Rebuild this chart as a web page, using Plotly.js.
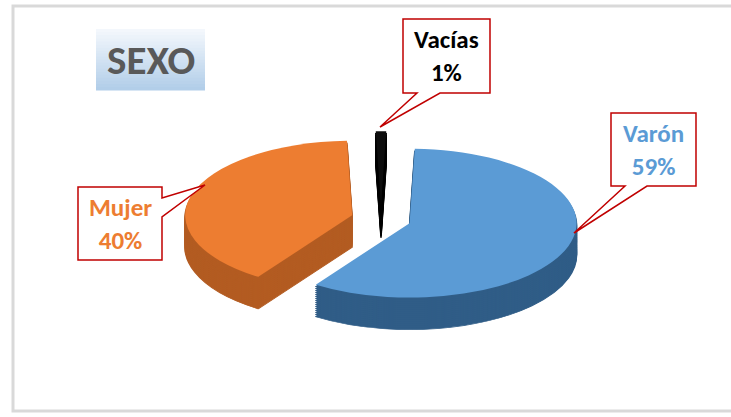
<!DOCTYPE html>
<html>
<head>
<meta charset="utf-8">
<script src="https://cdn.plot.ly/plotly-3.0.1.min.js"></script>
<style>
  html, body { margin: 0; padding: 0; background: #ffffff; }
  #chart { width: 731px; height: 417px; }
</style>
</head>
<body>
<div id="chart"></div>
<script>
// ---- data ----
const categories = ['Varón', 'Mujer', 'Vacías'];
const values = [59, 40, 1];
const topColors = ['#5B9BD5', '#ED7D31', '#0d0d0d'];
const sideColors = ['#305d87', '#b35c22', '#000000'];
const labelColors = ['#5B9BD5', '#ED7D31', '#000000'];
const chartTitle = 'SEXO';

// ---- helpers (pixel -> paper) ----
const W = 731, H = 417;
const px = x => x / W;
const py = y => 1 - y / H;
const total = values.reduce((a, b) => a + b, 0);
const pct = values.map(v => Math.round(v / total * 100) + '%');

// pie geometry (pre-squash)
const cy = 219, squash = 0.446, depth = 32, nDepth = 16;
const pieDomain = { x: [px(184), px(578)], y: [py(416), py(22)] };
const pullArr = [0.18, 0.18, 0.18];
const startRotation = 1.8;

function pieTrace(colors, lineW) {
  return {
    type: 'pie', values: values, labels: categories, sort: false,
    direction: 'clockwise', rotation: startRotation, pull: pullArr,
    textinfo: 'none', hoverinfo: 'skip', showlegend: false,
    marker: { colors: colors, line: { width: lineW, color: colors } },
    domain: pieDomain
  };
}
const data = [];
const offsets = [];
for (let k = nDepth; k >= 1; k--) { data.push(pieTrace(sideColors, 1.5)); offsets.push(depth * k / nDepth); }
data.push(pieTrace(topColors, 0)); offsets.push(0);

// ---- shapes ----
const shapes = [];
// outer frame
shapes.push({ type: 'rect', xref: 'paper', yref: 'paper', x0: px(13), x1: px(740), y0: py(6), y1: py(411),
  line: { color: '#d9d9d9', width: 3 }, fillcolor: 'rgba(0,0,0,0)', layer: 'below' });
// title gradient box
const gTop = [243, 247, 252], gBot = [178, 206, 233];
const strips = 20, bx0 = 96, bx1 = 205, by0 = 29, by1 = 90;
for (let i = 0; i < strips; i++) {
  const t = i / (strips - 1);
  const c = gTop.map((v, j) => Math.round(v + (gBot[j] - v) * t));
  const ya = by0 + (by1 - by0) * i / strips, yb = by0 + (by1 - by0) * (i + 1) / strips + 0.5;
  shapes.push({ type: 'rect', xref: 'paper', yref: 'paper', x0: px(bx0), x1: px(bx1), y0: py(ya), y1: py(yb),
    line: { width: 0 }, fillcolor: `rgb(${c[0]},${c[1]},${c[2]})`, layer: 'below' });
}
// callout boxes
function pathFrom(pts) {
  return pts.map((p, i) => (i ? 'L' : 'M') + px(p[0]).toFixed(5) + ',' + py(p[1]).toFixed(5)).join(' ') + ' Z';
}
const callouts = [
  [[611,113],[696,113],[696,186],[647,186],[574,233],[625,186],[611,186]],
  [[78,187],[162,187],[162,198],[205,185],[162,217],[162,260],[78,260]],
  [[403,19],[490,19],[490,93],[440,93],[380,127],[417,93],[403,93]]
];
callouts.forEach(pts => shapes.push({ type: 'path', xref: 'paper', yref: 'paper', path: pathFrom(pts),
  line: { color: '#C00000', width: 1.5 }, fillcolor: '#ffffff', layer: 'above' }));

// ---- annotations ----
const labelCenters = [[653.5, 149.5], [120, 223.5], [446.5, 56]];
const annotations = categories.map((c, i) => ({
  xref: 'paper', yref: 'paper', x: px(labelCenters[i][0]), y: py(labelCenters[i][1]),
  xanchor: 'center', yanchor: 'middle', showarrow: false,
  text: '<b>' + c + '</b><br><b>' + pct[i] + '</b>',
  font: { family: 'Carlito, Lato, sans-serif', size: 25, color: labelColors[i] }
}));
annotations.push({ xref: 'paper', yref: 'paper', x: px(150.5), y: py(60), xanchor: 'center', yanchor: 'middle',
  showarrow: false, text: '<b>' + chartTitle + '</b>',
  font: { family: 'Carlito, Lato, sans-serif', size: 41, color: '#595959' } });

const layout = {
  width: W, height: H, margin: { l: 0, r: 0, t: 0, b: 0 },
  paper_bgcolor: '#ffffff', plot_bgcolor: '#ffffff',
  showlegend: false, hovermode: false,
  shapes: shapes, annotations: annotations
};

const gd = document.getElementById('chart');
function squashPie() {
  const groups = gd.querySelectorAll('.pielayer g.trace');
  groups.forEach((g, i) => {
    const off = offsets[i] || 0;
    g.setAttribute('transform', `translate(0,${(cy * (1 - squash) + off).toFixed(2)}) scale(1,${squash})`);
  });
}
Plotly.newPlot(gd, data, layout, { staticPlot: true, displayModeBar: false }).then(() => {
  squashPie();
  gd.on && gd.on('plotly_afterplot', squashPie);
});
</script>
</body>
</html>
